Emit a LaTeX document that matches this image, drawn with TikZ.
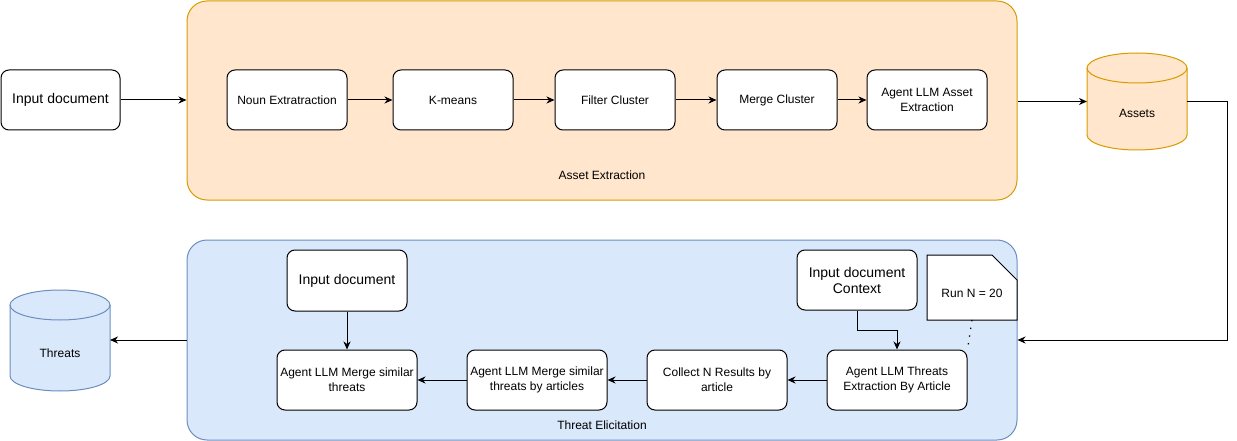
\documentclass[tikz,border=0pt]{standalone}
\usepackage{fontspec}
\setmainfont{Liberation Sans}
\usetikzlibrary{arrows.meta,calc}
\definecolor{orfill}{HTML}{FFE6CC}
\definecolor{ordraw}{HTML}{D79B00}
\definecolor{blfill}{HTML}{DAE8FC}
\definecolor{bldraw}{HTML}{6C8EBF}
\begin{document}
\begin{tikzpicture}[x=1pt,y=1pt,
  stepbox/.style={draw=black, fill=white, rounded corners=8pt, line width=1pt,
    minimum width=120pt, minimum height=60pt, inner sep=0pt, align=center,
    font=\fontsize{12}{15}\selectfont},
  widebox/.style={stepbox, minimum width=140pt},
  bigtxt/.style={font=\fontsize{14}{16}\selectfont},
  group/.style={rounded corners=20pt, line width=1pt, inner sep=0pt},
  ghost/.style={inner sep=0pt, outer sep=0pt},
  lbl/.style={inner sep=0pt, font=\fontsize{12}{14}\selectfont},
  conn/.style={line width=1pt, -{Stealth[length=8pt,width=7pt,inset=2.5pt]}},
  plainline/.style={line width=1pt}
]
\useasboundingbox (0,0) rectangle (1237,-441);

% containers
\node[group, draw=ordraw, fill=orfill, minimum width=830pt, minimum height=199pt] (orange) at (602,-100.5) {};
\node[group, draw=bldraw, fill=blfill, minimum width=830pt, minimum height=200pt] (blue) at (602,-340) {};
\node[lbl] (orangelbl) at (602,-175) {Asset Extraction};
\node[lbl] (bluelbl) at (602,-425) {Threat Elicitation};

% top row
\node[stepbox, bigtxt, minimum width=119pt] (in1) at (60.5,-100) {Input document};
\node[stepbox] (noun) at (287,-100) {Noun Extratraction};
\node[stepbox] (kmeans) at (453,-100) {K-means};
\node[stepbox] (filter) at (615,-100) {Filter Cluster};
\node[stepbox] (merge) at (777,-100) {Merge Cluster};
\node[stepbox] (agent) at (927,-100) {Agent LLM Asset\\Extraction};

% Assets cylinder
\filldraw[draw=ordraw, fill=orfill, line width=1pt]
  (1087,-68) -- (1087,-135) arc[start angle=180,end angle=360,x radius=50,y radius=15]
  -- (1187,-68) arc[start angle=0,end angle=180,x radius=50,y radius=15] -- cycle;
\draw[draw=ordraw, line width=1pt] (1087,-68) arc[start angle=180,end angle=360,x radius=50,y radius=15];
\node[ghost, minimum width=100pt, minimum height=97pt] (assets) at (1137,-101.5) {};
\node[lbl] (assetslbl) at (1137,-113) {Assets};

% Threats cylinder
\filldraw[draw=bldraw, fill=blfill, line width=1pt]
  (10,-305) -- (10,-376) arc[start angle=180,end angle=360,x radius=50,y radius=15]
  -- (110,-305) arc[start angle=0,end angle=180,x radius=50,y radius=15] -- cycle;
\draw[draw=bldraw, line width=1pt] (10,-305) arc[start angle=180,end angle=360,x radius=50,y radius=15];
\node[ghost, minimum width=100pt, minimum height=101pt] (threats) at (60,-340.5) {};
\node[lbl] (threatslbl) at (60,-353) {Threats};

% bottom row
\node[stepbox, bigtxt, minimum height=61pt] (in2) at (347,-280.5) {Input document};
\node[stepbox, bigtxt] (ctx) at (857,-280) {Input document\\Context};
\node[widebox] (msim) at (347,-380) {Agent LLM Merge similar\\threats};
\node[widebox] (mart) at (537,-380) {Agent LLM Merge similar\\threats by articles};
\node[widebox] (collect) at (717,-380) {Collect N Results by\\article};
\node[widebox] (te) at (897,-380) {Agent LLM Threats\\Extraction By Article};

% note
\draw[fill=white, line width=1pt] (927,-255) -- (992,-255) -- (1017,-280) -- (1017,-320) -- (927,-320) -- cycle;
\node[ghost, minimum width=90pt, minimum height=65pt] (note) at (972,-287.5) {};
\node[lbl] (notelbl) at (972,-293) {Run N = 20};

% connectors
\draw[conn] (in1.east) -- (in1.east -| orange.west);
\draw[conn] (noun) -- (kmeans);
\draw[conn] (kmeans) -- (filter);
\draw[conn] (filter) -- (merge);
\draw[conn] (merge) -- (agent);
\draw[conn] (orange.east |- assets.west) -- (assets.west);
\draw[conn] (assets.east) -- ++(40,0) |- (blue.east);
\draw[conn] (ctx.south) -- ++(0,-20) -| (te.north);
\draw[conn] (te) -- (collect);
\draw[conn] (collect) -- (mart);
\draw[conn] (mart) -- (msim);
\draw[conn] (in2) -- (msim);
\draw[conn] (blue.west) -- (blue.west -| threats.east);
\draw[line width=1.3pt, dash pattern=on 1.3pt off 6.5pt] (note.south) -- (te.north east);
\end{tikzpicture}
\end{document}
